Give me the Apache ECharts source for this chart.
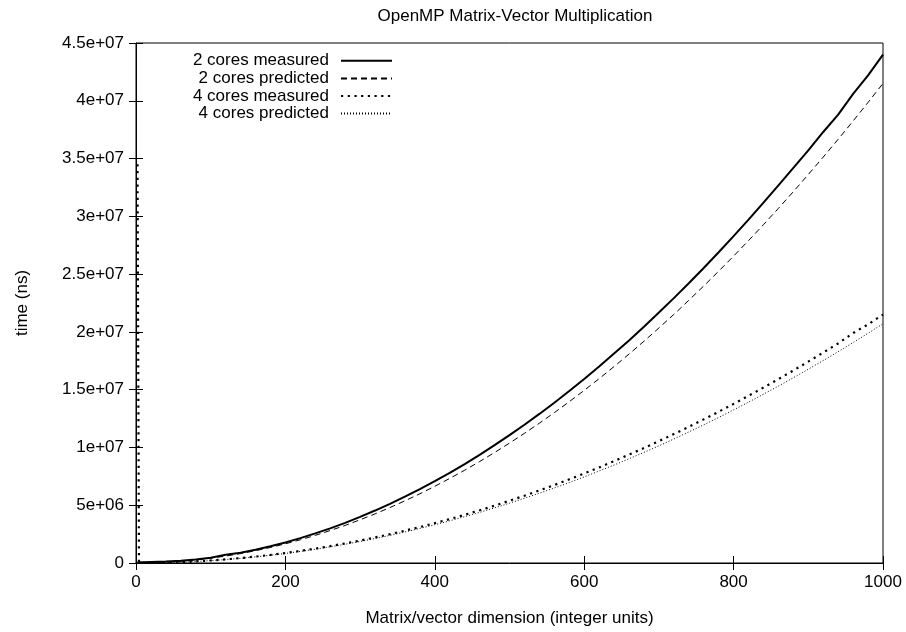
<!DOCTYPE html>
<html>
<head>
<meta charset="utf-8">
<script src="https://cdn.jsdelivr.net/npm/echarts@6/dist/echarts.min.js"></script>
<style>
  html, body { margin: 0; padding: 0; background: #fff; }
  #grafico { width: 906px; height: 632px; }
</style>
</head>
<body>
<div id="grafico"></div>
<script>
// matrix / vector dimension
const dims = [2, 4, 10, 20, 40, 60, 80, 100, 120, 140, 160, 180, 200, 220, 240, 260, 280, 300,
  320, 340, 360, 380, 400, 420, 440, 460, 480, 500, 520, 540, 560, 580, 600, 620, 640, 660,
  680, 700, 720, 740, 760, 780, 800, 820, 840, 860, 880, 900, 920, 940, 960, 980, 1000];

// time in ns
const medido2 = [6e4, 6e4, 7e4, 9e4, 1.2e5, 1.9e5, 3.0e5, 4.6e5, 7.2e5, 8.8e5, 1.15e6, 1.45e6,
  1.78e6, 2.15e6, 2.56e6, 3.0e6, 3.47e6, 3.99e6, 4.54e6, 5.12e6, 5.74e6, 6.4e6, 7.08e6, 7.8e6,
  8.56e6, 9.36e6, 1.02e7, 1.106e7, 1.196e7, 1.29e7, 1.387e7, 1.488e7, 1.592e7, 1.7e7, 1.812e7,
  1.926e7, 2.045e7, 2.167e7, 2.292e7, 2.421e7, 2.553e7, 2.689e7, 2.829e7, 2.972e7, 3.118e7,
  3.268e7, 3.42e7, 3.57e7, 3.73e7, 3.88e7, 4.06e7, 4.22e7, 4.4e7];

const previsto2 = [0, 1e3, 4e3, 1.7e4, 6.6e4, 1.49e5, 2.66e5, 4.15e5, 5.98e5, 8.13e5, 1.062e6,
  1.345e6, 1.66e6, 2.01e6, 2.39e6, 2.81e6, 3.25e6, 3.74e6, 4.25e6, 4.8e6, 5.38e6, 5.99e6,
  6.64e6, 7.32e6, 8.03e6, 8.78e6, 9.56e6, 1.0375e7, 1.122e7, 1.21e7, 1.301e7, 1.396e7, 1.494e7,
  1.595e7, 1.70e7, 1.808e7, 1.919e7, 2.034e7, 2.151e7, 2.273e7, 2.397e7, 2.525e7, 2.656e7,
  2.79e7, 2.928e7, 3.069e7, 3.214e7, 3.362e7, 3.513e7, 3.667e7, 3.825e7, 3.986e7, 4.15e7];

const medido4 = [3.45e7, 3e4, 2e4, 2e4, 3.5e4, 8e4, 1.4e5, 2.2e5, 3.15e5, 4.25e5, 5.55e5, 7.0e5,
  8.65e5, 1.045e6, 1.245e6, 1.46e6, 1.695e6, 1.945e6, 2.21e6, 2.495e6, 2.8e6, 3.11e6, 3.45e6,
  3.8e6, 4.17e6, 4.56e6, 4.96e6, 5.39e6, 5.82e6, 6.28e6, 6.75e6, 7.24e6, 7.75e6, 8.27e6, 8.82e6,
  9.38e6, 9.95e6, 1.055e7, 1.116e7, 1.178e7, 1.243e7, 1.309e7, 1.377e7, 1.447e7, 1.518e7,
  1.591e7, 1.666e7, 1.743e7, 1.821e7, 1.9e7, 1.99e7, 2.065e7, 2.15e7];

const previsto4 = [0, 300, 2e3, 8.3e3, 3.3e4, 7.5e4, 1.32e5, 2.07e5, 2.98e5, 4.06e5, 5.3e5,
  6.71e5, 8.28e5, 1.0e6, 1.19e6, 1.4e6, 1.62e6, 1.86e6, 2.12e6, 2.39e6, 2.68e6, 2.99e6, 3.31e6,
  3.65e6, 4.01e6, 4.38e6, 4.77e6, 5.175e6, 5.6e6, 6.04e6, 6.49e6, 6.96e6, 7.45e6, 7.96e6,
  8.48e6, 9.02e6, 9.57e6, 1.014e7, 1.073e7, 1.134e7, 1.196e7, 1.259e7, 1.325e7, 1.392e7,
  1.461e7, 1.531e7, 1.603e7, 1.677e7, 1.752e7, 1.829e7, 1.908e7, 1.988e7, 2.07e7];

const nombres = ["2 cores measured", "2 cores predicted", "4 cores measured", "4 cores predicted"];

const etiquetasY = ["0", "5e+06", "1e+07", "1.5e+07", "2e+07", "2.5e+07", "3e+07", "3.5e+07", "4e+07", "4.5e+07"];
const etiquetasX = ["0", "200", "400", "600", "800", "1000"];

const fuente = "'Liberation Sans', Arial, Helvetica, sans-serif";

function pares(valores) {
    return dims.map((d, i) => [d, valores[i]]);
}

const contenedor = document.getElementById("grafico");
const miGrafico = echarts.init(contenedor, null, { renderer: "canvas" });

const tickDentro = { show: true, inside: true, length: 7, lineStyle: { color: "#000", width: 1 } };

const opciones = {
    animation: false,
    backgroundColor: "#fff",
    textStyle: { fontFamily: fuente, color: "#000" },
    title: {
        text: "OpenMP Matrix-Vector Multiplication",
        left: 510,
        textAlign: "center",
        top: 3,
        textStyle: { fontFamily: fuente, fontSize: 17, fontWeight: "normal", color: "#000" }
    },
    grid: {
        left: 136, right: 23, top: 43, bottom: 56,
        show: true, borderColor: "#000", borderWidth: 1
    },
    legend: {
        data: nombres,
        orient: "vertical",
        left: 179,
        top: 52,
        padding: 0,
        align: "right",
        itemWidth: 51,
        itemHeight: 14,
        itemGap: 0,
        itemStyle: { opacity: 0 },
        textStyle: {
            fontFamily: fuente, fontSize: 17, color: "#000", lineHeight: 17.6,
            width: 150, align: "right", padding: [0, 7, 0, 0]
        }
    },
    xAxis: [
        {
            type: "value", min: 0, max: 1000, interval: 200,
            name: "Matrix/vector dimension (integer units)",
            nameLocation: "middle", nameGap: 47,
            nameTextStyle: { fontFamily: fuente, fontSize: 17, color: "#000" },
            axisLine: { show: true, lineStyle: { color: "#000" } },
            axisTick: tickDentro,
            splitLine: { show: false },
            axisLabel: {
                fontFamily: fuente, fontSize: 17, color: "#000", margin: 11,
                formatter: (v) => etiquetasX[Math.round(v / 200)]
            }
        },
        {
            type: "value", min: 0, max: 1000, interval: 200, position: "top",
            axisLine: { show: false }, axisTick: tickDentro,
            axisLabel: { show: false }, splitLine: { show: false }
        }
    ],
    yAxis: [
        {
            type: "value", min: 0, max: 4.5e7, interval: 5e6,
            name: "time (ns)",
            nameLocation: "middle", nameGap: 105, nameRotate: 90,
            nameTextStyle: { fontFamily: fuente, fontSize: 17, color: "#000" },
            axisLine: { show: true, lineStyle: { color: "#000" } },
            axisTick: tickDentro,
            splitLine: { show: false },
            axisLabel: {
                fontFamily: fuente, fontSize: 17, color: "#000", margin: 12,
                formatter: (v) => etiquetasY[Math.round(v / 5e6)]
            }
        },
        {
            type: "value", min: 0, max: 4.5e7, interval: 5e6, position: "right",
            axisLine: { show: false }, axisTick: tickDentro,
            axisLabel: { show: false }, splitLine: { show: false }
        }
    ],
    series: [
        {
            name: nombres[0], type: "line", data: pares(medido2),
            symbol: "none", color: "#000",
            lineStyle: { color: "#000", width: 2, type: "solid" }
        },
        {
            name: nombres[1], type: "line", data: pares(previsto2),
            symbol: "none", color: "#000",
            lineStyle: { color: "#000", width: 1, type: [6, 4] }
        },
        {
            name: nombres[2], type: "line", data: pares(medido4),
            symbol: "none", color: "#000",
            lineStyle: { color: "#000", width: 2.2, type: [2.2, 4.5] }
        },
        {
            name: nombres[3], type: "line", data: pares(previsto4),
            symbol: "none", color: "#000",
            lineStyle: { color: "#000", width: 1, type: [1, 2] }
        }
    ]
};

miGrafico.setOption(opciones);
</script>
</body>
</html>
